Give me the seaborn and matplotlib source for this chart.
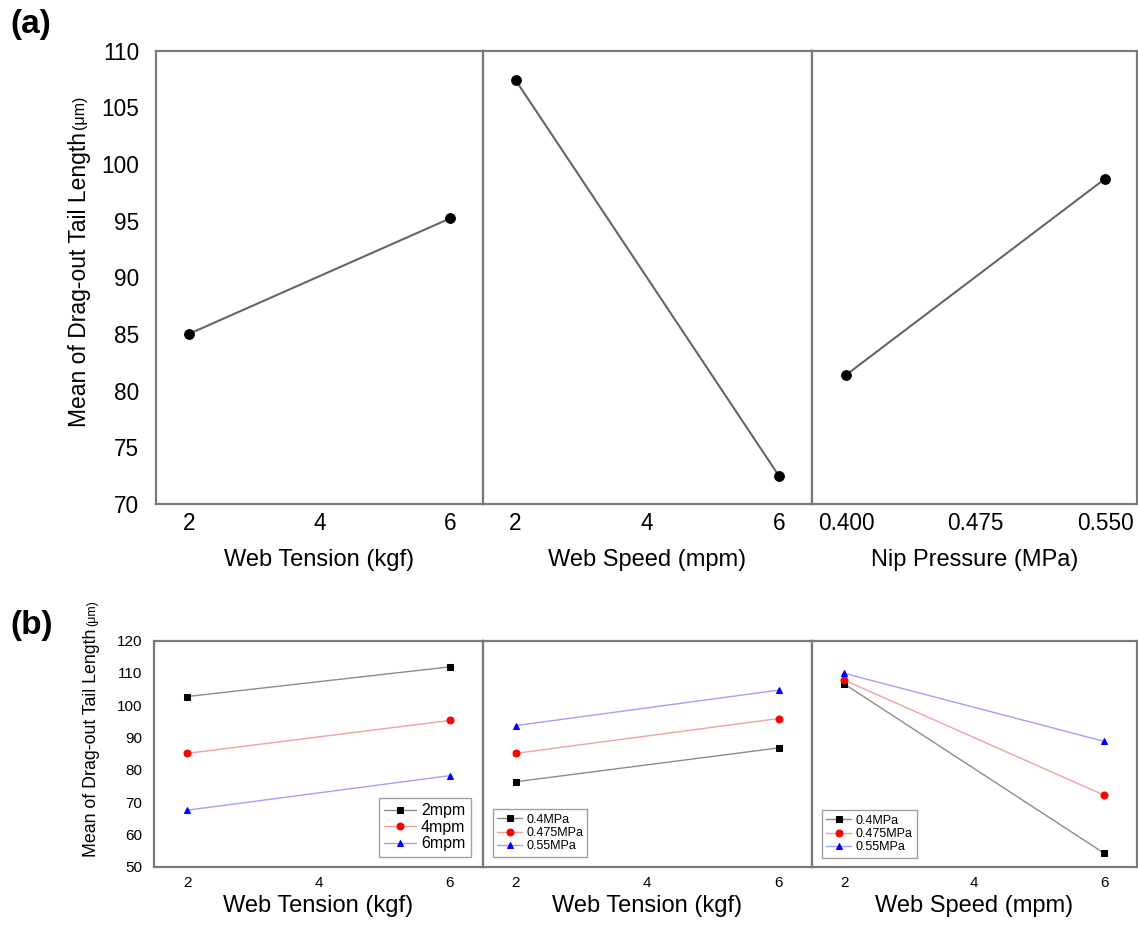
import numpy as np
import seaborn as sns
import matplotlib.pyplot as plt

sns.set_style("white")
plt.rcParams['font.family'] = ['Liberation Sans', 'DejaVu Sans']
plt.rcParams['text.color'] = 'black'
plt.rcParams['axes.labelcolor'] = 'black'
plt.rcParams['xtick.color'] = 'black'
plt.rcParams['ytick.color'] = 'black'

# (a) main effects
tension_levels = [2, 6]
tension_means = [85.0, 95.2]
speed_levels = [2, 6]
speed_means = [107.4, 72.5]
pressure_levels = [0.400, 0.550]
pressure_means = [81.4, 98.7]

# (b) interaction plots
speed_names = ["2mpm", "4mpm", "6mpm"]
tension_by_speed = [[102.7, 111.9], [85.1, 95.3], [67.5, 78.2]]
pressure_names = ["0.4MPa", "0.475MPa", "0.55MPa"]
tension_by_pressure = [[76.3, 86.8], [85.1, 95.9], [93.7, 104.7]]
speed_by_pressure = [[106.6, 54.1], [107.8, 72.1], [109.9, 88.8]]

W, H = 1138, 925
fig = plt.figure(figsize=(W / 100, H / 100), dpi=100)


def box(x0, x1, ytop, ybot):
    return [x0 / W, 1 - ybot / H, (x1 - x0) / W, (ybot - ytop) / H]


def style_axes(ax):
    for s in ax.spines.values():
        s.set_color("#7a7a7a")
        s.set_linewidth(1.6)


# ---- top row (a)
top_edges = [156, 482.7, 811.7, 1137]
top_data = [
    (tension_levels, tension_means, "Web Tension (kgf)", [2, 4, 6], ["2", "4", "6"], (1.5, 6.5)),
    (speed_levels, speed_means, "Web Speed (mpm)", [2, 4, 6], ["2", "4", "6"], (1.5, 6.5)),
    (pressure_levels, pressure_means, "Nip Pressure (MPa)", [0.400, 0.475, 0.550],
     ["0.400", "0.475", "0.550"], (0.38, 0.5685)),
]
for i, (xs, ys, lab, ticks, ticklabs, xlim) in enumerate(top_data):
    ax = fig.add_axes(box(top_edges[i], top_edges[i + 1], 50.7, 504))
    sns.lineplot(x=xs, y=ys, ax=ax, color="#666666", lw=1.5, marker="o", markersize=7,
                 markerfacecolor="black", markeredgecolor="black")
    ax.set_xlim(*xlim)
    ax.set_ylim(70, 110)
    ax.set_xticks(ticks)
    ax.set_xticklabels(ticklabs)
    ax.set_yticks(range(70, 111, 5))
    ax.tick_params(length=0, labelsize=16.3, pad=6)
    ax.tick_params(axis="y", pad=12)
    if i > 0:
        ax.tick_params(labelleft=False)
    ax.set_xlabel(lab, fontsize=17, labelpad=10)
    style_axes(ax)

# ---- bottom row (b)
bot_edges = [154.3, 482.7, 811.7, 1137]
line_cols = ["#8c8c8c", "#f2a0a0", "#a0a0f5"]
mark_cols = ["black", "red", "blue"]
markers = ["s", "o", "^"]
bot_data = [
    (tension_levels, tension_by_speed, speed_names, "Web Tension (kgf)", "lower right", (0.964, 0.043), 11.5),
    (tension_levels, tension_by_pressure, pressure_names, "Web Tension (kgf)", "lower left", (0.031, 0.045), 9),
    (speed_levels, speed_by_pressure, pressure_names, "Web Speed (mpm)", "lower left", (0.032, 0.040), 9),
]
for i, (xs, series, names, lab, loc, anchor, lsize) in enumerate(bot_data):
    ax = fig.add_axes(box(bot_edges[i], bot_edges[i + 1], 640.7, 866.7))
    for j, ys in enumerate(series):
        sns.lineplot(x=xs, y=ys, ax=ax, color=line_cols[j], lw=1.0, marker=markers[j],
                     markersize=5, markerfacecolor=mark_cols[j], markeredgecolor=mark_cols[j],
                     label=names[j])
    ax.set_xlim(1.5, 6.5)
    ax.set_ylim(50, 120)
    ax.set_xticks([2, 4, 6])
    ax.set_yticks(range(50, 121, 10))
    ax.tick_params(length=0, labelsize=11, pad=7)
    ax.tick_params(axis="y", pad=8.5)
    if i > 0:
        ax.tick_params(labelleft=False)
    ax.set_xlabel(lab, fontsize=17, labelpad=3)
    leg = ax.legend(loc=loc, bbox_to_anchor=anchor, borderaxespad=0, fontsize=lsize,
                    fancybox=False, edgecolor="#a0a0a0", framealpha=1, handlelength=2.0,
                    labelspacing=0.1, borderpad=0.35, handletextpad=0.3)
    leg.get_frame().set_linewidth(1.0)
    style_axes(ax)


# y labels with a smaller unit
def ylabel_two(x, ybot, main, unit, size, usize):
    t = fig.text(x, ybot, main, rotation=90, ha="center", va="bottom", fontsize=size)
    fig.canvas.draw()
    bb = t.get_window_extent()
    fig.text(x, (bb.y1 + 3) / fig.bbox.height, unit, rotation=90, ha="center",
             va="bottom", fontsize=usize)


ylabel_two(80 / W, 1 - 427 / H, "Mean of Drag-out Tail Length", "(\u03bcm)", 16.5, 11.5)
ylabel_two(92 / W, 1 - 857 / H, "Mean of Drag-out Tail Length", "(\u03bcm)", 12.8, 9)

fig.text(10 / W, 1 - 9 / H, "(a)", fontsize=24, fontweight="bold", va="top")
fig.text(10 / W, 1 - 610 / H, "(b)", fontsize=24, fontweight="bold", va="top")

fig.savefig("out.png", dpi=100)
